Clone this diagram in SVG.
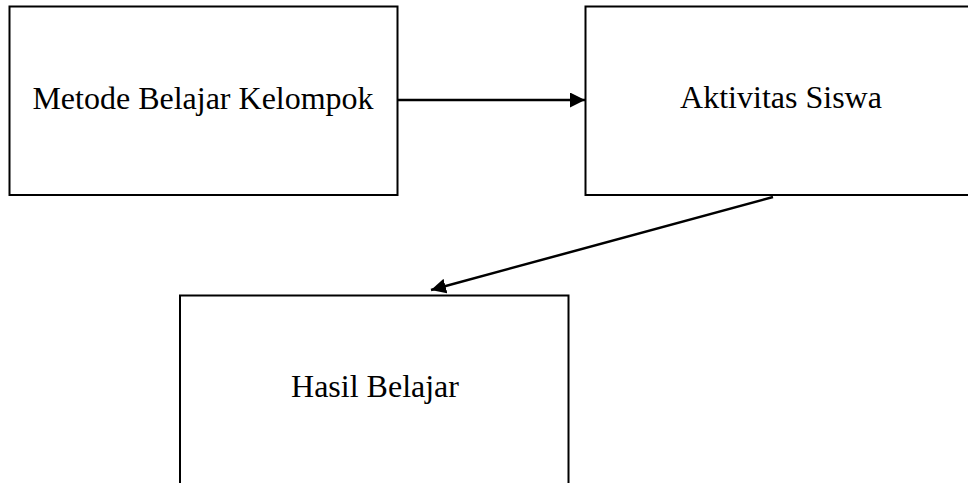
<svg xmlns="http://www.w3.org/2000/svg" width="968" height="483" viewBox="0 0 968 483">
<style>
.box{fill:#fff;stroke:#000;stroke-width:2}
.lbl{font-family:"Liberation Serif","Times New Roman",serif;font-size:32px;fill:#000;text-anchor:middle}
.edge{stroke:#000;stroke-width:2.5;fill:none}
</style>
<defs>
<marker id="ah" viewBox="0 0 10 10" refX="10" refY="5" markerWidth="6" markerHeight="6" markerUnits="strokeWidth" orient="auto">
<path d="M0,0 L10,5 L0,10 z" fill="#000"/>
</marker>
</defs>
<rect width="968" height="483" fill="#fff"/>
<g id="node-metode">
<rect class="box" x="9.5" y="6.5" width="388" height="188.5"/>
<text class="lbl" x="203" y="109">Metode Belajar Kelompok</text>
</g>
<g id="node-aktivitas">
<rect class="box" x="585.5" y="6.5" width="392" height="188.5"/>
<text class="lbl" x="781" y="108">Aktivitas Siswa</text>
</g>
<g id="node-hasil">
<rect class="box" x="180" y="295.5" width="388.5" height="200"/>
<text class="lbl" x="375" y="397">Hasil Belajar</text>
</g>
<g id="connectors">
<line class="edge" x1="397.5" y1="100" x2="585" y2="100" marker-end="url(#ah)"/>
<line class="edge" x1="773" y1="197" x2="431" y2="290" marker-end="url(#ah)"/>
</g>
</svg>
